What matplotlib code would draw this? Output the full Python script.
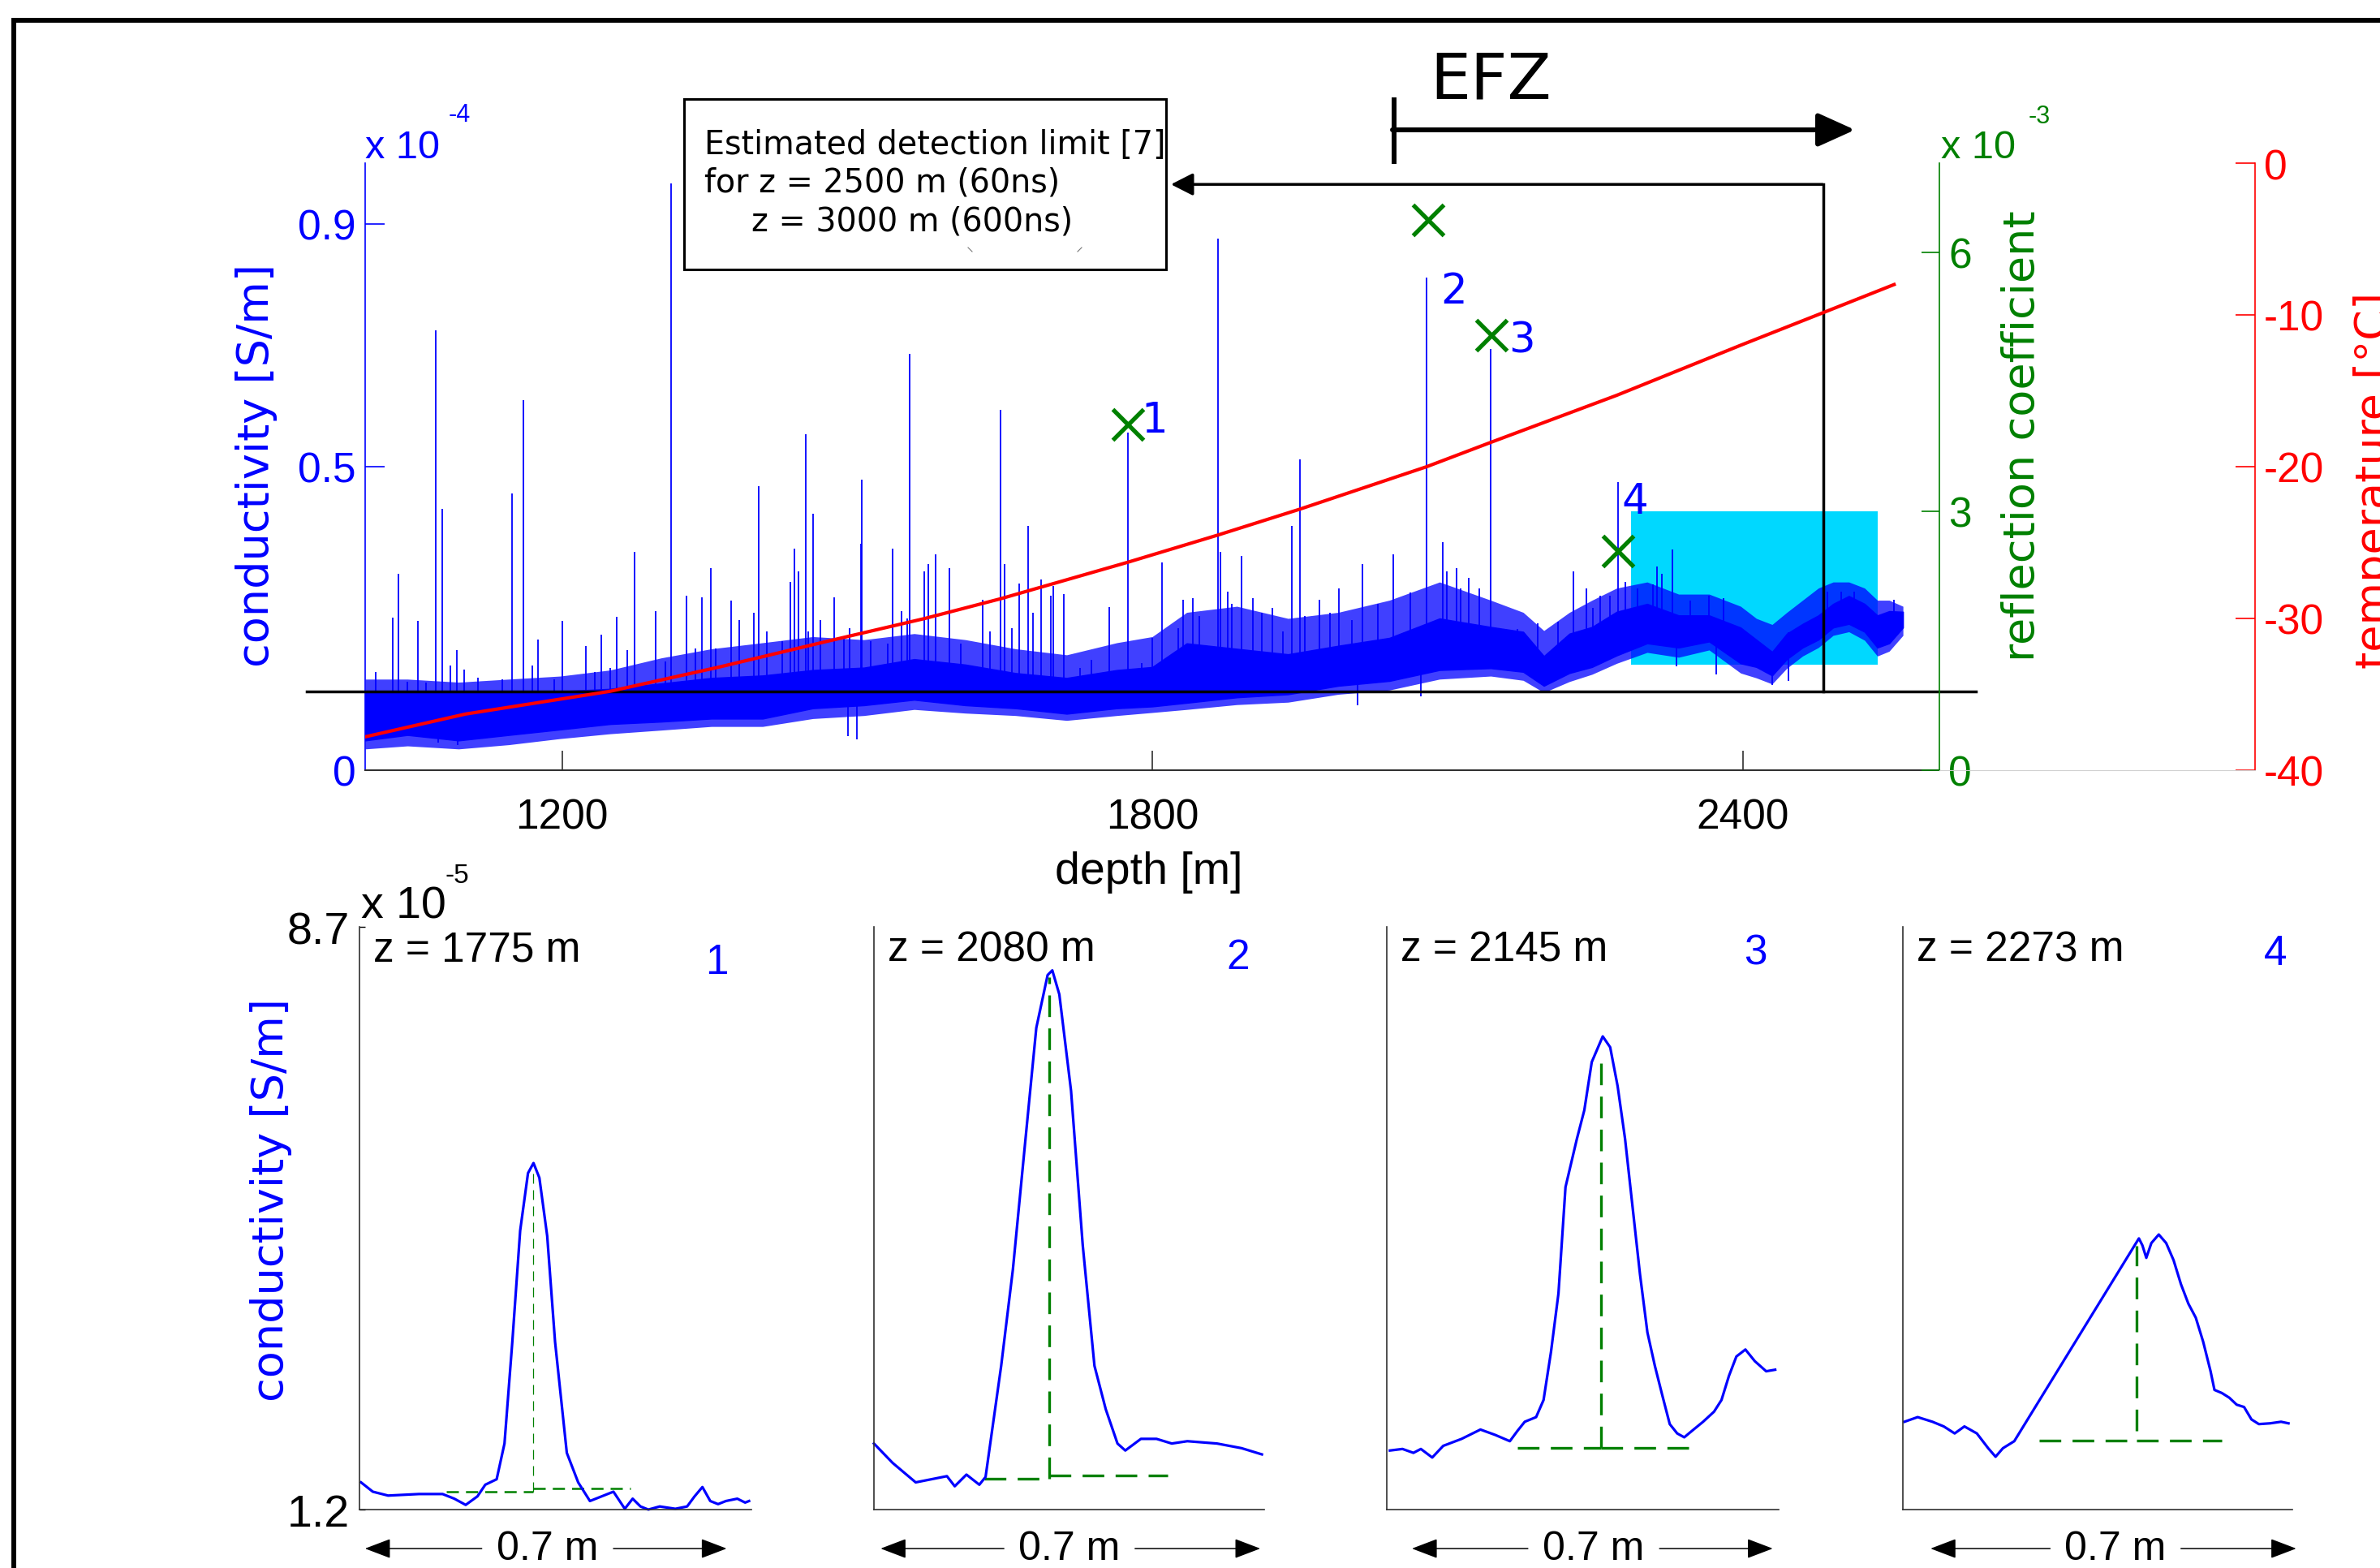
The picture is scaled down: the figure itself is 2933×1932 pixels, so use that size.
import numpy as np
import matplotlib
matplotlib.use("Agg")
import matplotlib.pyplot as plt
from matplotlib.lines import Line2D
from matplotlib.patches import Rectangle, FancyArrowPatch

plt.rcParams['font.family'] = ['Liberation Sans', 'DejaVu Sans']
plt.rcParams['axes.unicode_minus'] = False

# ---- borehole log (conductivity in 1e-4 S/m) ----
band_depth = [1000, 1043, 1095, 1146, 1198, 1249, 1301, 1352, 1404, 1455,
              1507, 1558, 1610, 1661, 1713, 1764, 1800, 1835, 1886, 1938,
              1989, 2041, 2092, 2144, 2177, 2198, 2224, 2247, 2272, 2303,
              2335, 2366, 2398, 2414, 2430, 2445, 2461, 2477, 2492, 2508,
              2524, 2537, 2549, 2563]
# dense core of the trace
band_lo = [0.049, 0.058, 0.049, 0.058, 0.067, 0.076, 0.080, 0.085, 0.085, 0.102,
           0.107, 0.116, 0.107, 0.102, 0.093, 0.102, 0.105, 0.111, 0.120, 0.125,
           0.139, 0.147, 0.165, 0.168, 0.162, 0.139, 0.160, 0.170, 0.189, 0.209,
           0.202, 0.212, 0.176, 0.170, 0.156, 0.183, 0.202, 0.215, 0.235, 0.241,
           0.228, 0.202, 0.209, 0.235]
band_hi = [0.130, 0.127, 0.127, 0.127, 0.130, 0.134, 0.143, 0.152, 0.156, 0.165,
           0.169, 0.183, 0.174, 0.160, 0.152, 0.165, 0.170, 0.209, 0.200, 0.191,
           0.205, 0.218, 0.250, 0.236, 0.228, 0.188, 0.225, 0.236, 0.261, 0.274,
           0.255, 0.255, 0.235, 0.215, 0.195, 0.225, 0.241, 0.255, 0.274, 0.287,
           0.274, 0.255, 0.262, 0.261]
# ragged fringe around the core
fuzz_lo = [0.035, 0.040, 0.035, 0.042, 0.052, 0.060, 0.066, 0.072, 0.072, 0.085,
           0.090, 0.100, 0.094, 0.090, 0.082, 0.090, 0.095, 0.100, 0.108, 0.112,
           0.125, 0.132, 0.150, 0.155, 0.148, 0.128, 0.146, 0.158, 0.176, 0.194,
           0.186, 0.198, 0.160, 0.152, 0.142, 0.168, 0.188, 0.202, 0.222, 0.228,
           0.214, 0.188, 0.196, 0.222]
fuzz_hi = [0.150, 0.150, 0.145, 0.150, 0.155, 0.165, 0.185, 0.200, 0.210, 0.220,
           0.215, 0.225, 0.215, 0.200, 0.190, 0.210, 0.220, 0.260, 0.270, 0.250,
           0.260, 0.280, 0.310, 0.280, 0.260, 0.230, 0.260, 0.280, 0.300, 0.310,
           0.290, 0.290, 0.270, 0.250, 0.240, 0.260, 0.280, 0.300, 0.310, 0.310,
           0.300, 0.280, 0.280, 0.270]

spike_depth = [1011, 1028, 1034, 1043, 1054, 1062, 1072, 1078, 1087, 1093,
               1101, 1115, 1139, 1149, 1161, 1170, 1176, 1192, 1200, 1224,
               1233, 1240, 1249, 1256, 1266, 1274, 1295, 1305, 1311, 1327,
               1336, 1342, 1351, 1356, 1372, 1380, 1395, 1400, 1408, 1424,
               1432, 1436, 1440, 1448, 1450, 1455, 1463, 1477, 1487, 1492,
               1504, 1505, 1514, 1531, 1536, 1545, 1551, 1553, 1568, 1572,
               1580, 1594, 1605, 1628, 1635, 1646, 1650, 1657, 1665, 1674,
               1679, 1687, 1697, 1699, 1710, 1727, 1738, 1756, 1775, 1789,
               1800, 1810, 1826, 1831, 1841, 1848, 1867, 1869, 1877, 1881,
               1891, 1902, 1911, 1922, 1933, 1942, 1950, 1955, 1970, 1981,
               1990, 2003, 2014, 2029, 2045, 2062, 2079, 2095, 2099, 2109,
               2113, 2122, 2132, 2144, 2155, 2171, 2192, 2212, 2228, 2241,
               2248, 2255, 2265, 2273, 2281, 2293, 2309, 2313, 2318, 2329,
               2347, 2366, 2381, 2486, 2500, 2513, 2554]
spike_top = [0.162, 0.252, 0.323, 0.146, 0.246, 0.144, 0.725, 0.430, 0.172, 0.198,
             0.166, 0.152, 0.150, 0.456, 0.609, 0.172, 0.215, 0.150, 0.246, 0.205,
             0.162, 0.223, 0.169, 0.253, 0.198, 0.359, 0.262, 0.179, 0.967, 0.288,
             0.201, 0.285, 0.333, 0.201, 0.279, 0.247, 0.260, 0.468, 0.228, 0.213,
             0.310, 0.365, 0.327, 0.554, 0.228, 0.423, 0.247, 0.285, 0.218, 0.234,
             0.373, 0.478, 0.213, 0.209, 0.365, 0.262, 0.250, 0.686, 0.327, 0.340,
             0.356, 0.333, 0.208, 0.281, 0.228, 0.594, 0.340, 0.234, 0.307, 0.403,
             0.260, 0.314, 0.287, 0.304, 0.290, 0.169, 0.182, 0.269, 0.556, 0.176,
             0.218, 0.342, 0.234, 0.281, 0.284, 0.254, 0.876, 0.359, 0.294, 0.274,
             0.353, 0.284, 0.260, 0.268, 0.228, 0.403, 0.512, 0.254, 0.281, 0.260,
             0.300, 0.247, 0.340, 0.274, 0.356, 0.293, 0.811, 0.376, 0.327, 0.333,
             0.300, 0.317, 0.300, 0.694, 0.224, 0.232, 0.242, 0.245, 0.327, 0.300,
             0.268, 0.287, 0.287, 0.474, 0.310, 0.300, 0.306, 0.336, 0.323, 0.364,
             0.280, 0.287, 0.284, 0.294, 0.294, 0.294, 0.281]

dip_depth = [1074, 1094, 1491, 1500, 2009, 2073, 2333, 2373, 2430, 2447]
dip_bottom = [0.045, 0.042, 0.056, 0.051, 0.107, 0.121, 0.171, 0.158, 0.140, 0.147]

# temperature profile (deg C)
temp_depth = [1000, 1102, 1249, 1360, 1470, 1569, 1646, 1775, 1867, 1950,
              2079, 2144, 2272, 2398, 2480, 2554]
temp_val = [-37.8, -36.3, -34.8, -33.2, -31.5, -30.0, -28.7, -26.3, -24.5, -22.8,
            -20.0, -18.4, -15.3, -12.0, -9.9, -8.0]

# radar reflections (1e-3)
refl_depth = [1775, 2080, 2145, 2273]
refl_val = [4.0, 6.37, 5.04, 2.54]
event_names = ['1', '2', '3', '4']

detect_level = 0.13          # detection limit, 1e-4 S/m
level_span = (941, 2637)
limit_depth = 2482
hl_depth = (2287, 2537)      # highlighted section
hl_cond = (0.174, 0.427)

# ---- zoomed peaks (1e-5 S/m over a 0.7 m window) ----
panel_z = [1775, 2080, 2145, 2273]
panel_x = [
    [.004, .034, .073, .152, .212, .242, .271, .301, .321, .350, .370, .390, .410,
     .430, .444, .459, .479, .499, .529, .558, .588, .618, .648, .677, .697, .717,
     .737, .766, .806, .836, .855, .875, .895, .915, .935, .964, .984, .994],
    [0, .048, .107, .147, .187, .207, .237, .270, .286, .326, .356, .386, .416,
     .445, .457, .475, .505, .535, .565, .594, .624, .644, .684, .724, .763, .803,
     .879, .942, .994],
    [.008, .040, .068, .087, .116, .144, .191, .239, .277, .314, .333, .352, .381,
     .400, .419, .438, .456, .485, .504, .523, .551, .570, .589, .608, .627, .646,
     .665, .684, .703, .722, .741, .759, .778, .807, .835, .854, .873, .892, .915,
     .939, .968, .991],
    [.004, .038, .076, .105, .133, .158, .190, .219, .238, .257, .286, .606, .615,
     .625, .638, .657, .676, .695, .714, .733, .752, .771, .790, .800, .819, .838,
     .857, .876, .895, .914, .943, .971, .990],
]
panel_y = [
    [1.55, 1.43, 1.38, 1.40, 1.40, 1.34, 1.26, 1.37, 1.52, 1.59, 2.05, 3.36, 4.79,
     5.53, 5.66, 5.47, 4.72, 3.36, 1.93, 1.55, 1.31, 1.37, 1.43, 1.21, 1.34, 1.24,
     1.20, 1.24, 1.21, 1.24, 1.37, 1.49, 1.31, 1.27, 1.31, 1.34, 1.29, 1.31],
    [2.05, 1.80, 1.55, 1.59, 1.63, 1.50, 1.65, 1.52, 1.62, 3.05, 4.29, 5.85, 7.40,
     8.08, 8.14, 7.83, 6.59, 4.60, 3.05, 2.49, 2.05, 1.96, 2.11, 2.11, 2.05, 2.08,
     2.05, 1.99, 1.91],
    [1.96, 1.98, 1.93, 1.98, 1.87, 2.02, 2.11, 2.23, 2.16, 2.08, 2.21, 2.33, 2.39,
     2.61, 3.23, 3.98, 5.35, 5.97, 6.34, 6.96, 7.29, 7.15, 6.65, 5.97, 5.10, 4.23,
     3.48, 3.05, 2.67, 2.30, 2.18, 2.13, 2.21, 2.33, 2.46, 2.61, 2.92, 3.17, 3.26,
     3.11, 2.98, 3.00],
    [2.33, 2.39, 2.33, 2.27, 2.18, 2.27, 2.18, 1.99, 1.88, 1.99, 2.08, 4.69, 4.60,
     4.44, 4.63, 4.74, 4.63, 4.41, 4.10, 3.85, 3.67, 3.36, 2.98, 2.74, 2.70, 2.64,
     2.55, 2.52, 2.36, 2.30, 2.31, 2.33, 2.31],
]
base_span = [(.222, .691), (.282, .753), (.333, .797), (.349, .819)]
base_lvl = [(1.43, 1.47), (1.60, 1.64), (1.99, 1.99), (2.09, 2.09)]
peak_x = [.444, .449, .547, .600]
peak_bottom = [1.43, 1.60, 1.99, 2.21]
peak_top = [5.59, 8.05, 7.09, 4.60]

BLUE, GREEN, RED, CYAN = '#0000ff', '#008000', '#ff0000', '#00d8ff'
W, H = 2933, 1933


def fx(x):
    return x / W


def fy(y):
    return 1 - y / H


def ftext(x, y, s, **kw):
    fig.text(fx(x), fy(y), s, **kw)


fig = plt.figure(figsize=(W / 100, H / 100), dpi=100)

# outer frame (open to the right and bottom)
fig.add_artist(Line2D([fx(17), fx(17)], [fy(26), -0.05], lw=4.3, color='black'))
fig.add_artist(Line2D([fx(17), 1.05], [fy(26), fy(26)], lw=4.3, color='black'))

# ---- main log ----
ax = fig.add_axes([fx(450), fy(950), 1940 / W, 748 / H])
ax.set_xlim(1000, 2600)
ax.set_ylim(0, 1.0)
ax.add_patch(Rectangle((hl_depth[0], hl_cond[0]), hl_depth[1] - hl_depth[0],
                       hl_cond[1] - hl_cond[0], color=CYAN, lw=0, zorder=1))
ax.fill_between(band_depth, fuzz_lo, fuzz_hi, color=BLUE, alpha=0.75, lw=0, zorder=2)
ax.fill_between(band_depth, band_lo, band_hi, color=BLUE, lw=1.0, zorder=2)
ax.vlines(spike_depth, np.interp(spike_depth, band_depth, band_lo), spike_top,
          color=BLUE, lw=1.3, zorder=2)
ax.vlines(dip_depth, dip_bottom, np.interp(dip_depth, band_depth, band_hi),
          color=BLUE, lw=1.3, zorder=2)

ax.plot(level_span, [detect_level, detect_level], color='black', lw=2.5,
        zorder=4, clip_on=False)
limit_y = 0.965
ax.plot([limit_depth, limit_depth], [detect_level, limit_y], color='black', lw=2.5,
        zorder=4, clip_on=False)
ax.annotate('', xy=(1819, limit_y), xytext=(limit_depth - 1, limit_y),
            annotation_clip=False,
            arrowprops=dict(arrowstyle='-|>,head_length=0.55,head_width=0.28',
                            mutation_scale=30, lw=2.5, color='black',
                            shrinkA=0, shrinkB=0))

for s in ['top', 'right']:
    ax.spines[s].set_visible(False)
ax.spines['left'].set_color(BLUE)
ax.spines['left'].set_linewidth(1.2)
ax.spines['bottom'].set_color('#303030')
ax.spines['bottom'].set_linewidth(1.5)
ax.set_xticks([1200, 1800, 2400])
ax.tick_params(axis='x', direction='in', length=17, width=1.2, pad=24,
               labelsize=37, color='#303030')
ax.set_yticks([0, 0.5, 0.9])
ax.set_yticklabels(['0', '0.5', '0.9'])
ax.tick_params(axis='y', direction='in', length=17, width=1.2, colors=BLUE,
               labelsize=37, pad=8)

# temperature curve on its own scale
ax_temp = ax.twinx()
ax_temp.set_ylim(-40, 0)
ax_temp.axis('off')
ax_temp.plot(temp_depth, temp_val, color=RED, lw=3.0)

# reflection coefficients
ax_g = ax.twinx()
ax_g.set_ylim(0, 7.03)
for s in ['top', 'left', 'bottom']:
    ax_g.spines[s].set_visible(False)
ax_g.spines['right'].set_color(GREEN)
ax_g.spines['right'].set_linewidth(1.2)
ax_g.set_yticks([0, 3, 6])
ax_g.tick_params(axis='y', direction='in', length=16, width=1.2, colors=GREEN,
                 labelsize=37, pad=8)
ax_g.plot(refl_depth, refl_val, 'x', color=GREEN, ms=27, mew=3.8)
offsets = [(24, 4), (23, -63), (27, -5), (15, 44)]
for d, r, name, off in zip(refl_depth, refl_val, event_names, offsets):
    ax_g.annotate(name, (d, r), xytext=off, textcoords='offset points',
                  ha='center', va='center', color=BLUE, fontsize=37,
                  family='DejaVu Sans')

# separate temperature axis
ax_red = fig.add_axes([fx(2390), fy(950), (2779 - 2390) / W, 748 / H])
ax_red.set_ylim(-40, 0)
ax_red.patch.set_visible(False)
for s in ['top', 'left']:
    ax_red.spines[s].set_visible(False)
ax_red.spines['right'].set_color(RED)
ax_red.spines['right'].set_linewidth(1.2)
ax_red.spines['bottom'].set_color('#d0d0d0')
ax_red.set_xticks([])
ax_red.yaxis.tick_right()
ax_red.set_yticks([-40, -30, -20, -10, 0])
ax_red.tick_params(axis='y', direction='in', length=17, width=1.2, colors=RED,
                   labelsize=37, pad=8)

# axis titles and exponents
ftext(316, 574, 'conductivity [S/m]', rotation=90, ha='center', va='center',
      color=BLUE, fontsize=39, family='DejaVu Sans')
ftext(2492, 537, 'reflection coefficient', rotation=90, ha='center', va='center',
      color=GREEN, fontsize=39, family='DejaVu Sans')
ftext(2926, 592, 'temperature [°C]', rotation=90, ha='center', va='center',
      color=RED, fontsize=39, family='DejaVu Sans')
ftext(1416, 1075, 'depth [m]', ha='center', va='center', fontsize=40)
ftext(450, 195, 'x 10', color=BLUE, fontsize=35, va='baseline')
ftext(553, 150, '-4', color=BLUE, fontsize=22, va='baseline')
ftext(2392, 195, 'x 10', color=GREEN, fontsize=35, va='baseline')
ftext(2500, 152, '-3', color=GREEN, fontsize=22, va='baseline')

# EFZ marker
ftext(1762, 122, 'EFZ', fontsize=57, family='DejaVu Sans', va='baseline')
fig.add_artist(Line2D([fx(1718), fx(1718)], [fy(124), fy(200)], lw=4.3, color='black'))
fig.add_artist(FancyArrowPatch((fx(1716), fy(161)), (fx(2286), fy(161)),
                               transform=fig.transFigure, shrinkA=0, shrinkB=0,
                               arrowstyle='-|>,head_length=0.93,head_width=0.42',
                               mutation_scale=30, lw=4.3, color='black'))

# detection limit note
fig.add_artist(Rectangle((fx(843), fy(333)), 594 / W, 210 / H, fill=False, lw=2.2,
                         ec='black', transform=fig.transFigure))
ftext(868, 190, 'Estimated detection limit [7]', fontsize=28.5,
      family='DejaVu Sans', va='baseline')
ftext(868, 237, 'for z = 2500 m (60ns)', fontsize=28.5,
      family='DejaVu Sans', va='baseline')
ftext(926, 284, 'z = 3000 m (600ns)', fontsize=28.5,
      family='DejaVu Sans', va='baseline')
for x0, x1 in [(1193, 1198), (1333, 1328)]:
    fig.add_artist(Line2D([fx(x0), fx(x1)], [fy(306), fy(311)], lw=0.8, color='#777777'))

# ---- zoomed peaks ----
lefts = [443, 1077, 1709, 2345]
rights = [926, 1558, 2192, 2825]
num_pos = [(.911, .939), (.933, .948), (.940, .955), (.956, .955)]
arrow_tips = [(.014, .937), (.017, .990), (.064, .985), (.071, 1.010)]
text_mid = [.480, .501, .528, .546]
for i in range(4):
    pax = fig.add_axes([fx(lefts[i]), fy(1861), (rights[i] - lefts[i]) / W, 718 / H])
    pax.set_xlim(0, 1)
    pax.set_ylim(1.2, 8.7)
    pax.patch.set_visible(False)
    for s in ['top', 'right']:
        pax.spines[s].set_visible(False)
    for s in ['left', 'bottom']:
        pax.spines[s].set_color('#303030')
        pax.spines[s].set_linewidth(1.2)
    pax.set_xticks([])
    if i == 0:
        pax.set_yticks([1.2, 8.7])
        pax.set_yticklabels(['1.2', '8.7'])
        pax.tick_params(axis='y', direction='in', length=5, width=1.0,
                        labelsize=40, pad=9)
    else:
        pax.set_yticks([])

    thin = (i == 0)
    hw = 1.8 if thin else 2.4
    vw = 0.9 if thin else 2.4
    hd = (6, 3.5) if thin else (8, 4.2)
    vd = (9.6, 6.4) if thin else (8, 4.2)
    pax.plot([base_span[i][0], peak_x[i]], [base_lvl[i][0]] * 2, color=GREEN,
             lw=hw, dashes=hd)
    pax.plot([peak_x[i], base_span[i][1]], [base_lvl[i][1]] * 2, color=GREEN,
             lw=hw, dashes=hd)
    pax.plot([peak_x[i], peak_x[i]], [peak_bottom[i], peak_top[i]], color=GREEN,
             lw=vw, dashes=vd)
    pax.plot(panel_x[i], panel_y[i], color=BLUE, lw=2.3, clip_on=False)

    pax.text(0.035, 0.995, f'z = {panel_z[i]} m', transform=pax.transAxes,
             va='top', ha='left', fontsize=37)
    pax.text(num_pos[i][0], num_pos[i][1], str(i + 1), transform=pax.transAxes,
             ha='center', va='center', color=BLUE, fontsize=37)

    ya = -0.0669
    for tip, start in [(arrow_tips[i][0], text_mid[i] - 0.168),
                       (arrow_tips[i][1], text_mid[i] + 0.168)]:
        pax.annotate('', xy=(tip, ya), xytext=(start, ya), xycoords='axes fraction',
                     annotation_clip=False,
                     arrowprops=dict(arrowstyle='-|>,head_length=1.0,head_width=0.38',
                                     mutation_scale=20, lw=1.1, color='black',
                                     shrinkA=0, shrinkB=0))
    pax.text(text_mid[i], ya, '0.7 m', transform=pax.transAxes, ha='center',
             va='center', fontsize=36)

ftext(445, 1132, 'x 10', fontsize=40, va='baseline')
ftext(548, 1088, '-5', fontsize=24, va='baseline')
ftext(334, 1479, 'conductivity [S/m]', rotation=90, ha='center', va='center',
      color=BLUE, fontsize=39, family='DejaVu Sans')

fig.savefig('out.png', dpi=100)
